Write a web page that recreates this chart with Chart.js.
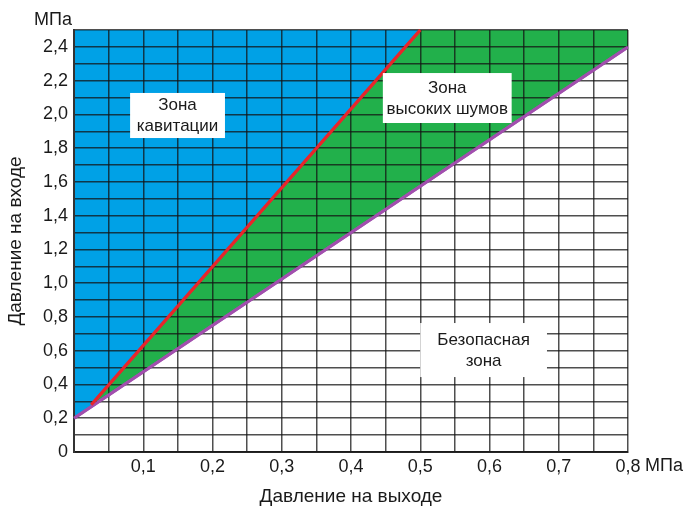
<!DOCTYPE html>
<html>
<head>
<meta charset="utf-8">
<script src="https://cdn.jsdelivr.net/npm/chart.js@4"></script>
<style>
html,body{margin:0;padding:0;background:#fff;}
#wrap{width:684px;height:509px;}
</style>
</head>
<body>
<div id="wrap"><canvas id="chart" width="684" height="509"></canvas></div>
<script>
// boundary lines (x = outlet pressure, y = inlet pressure, MPa)
const noiseX = [0, 0.8];          // purple line: lower edge of the noise zone
const noiseY = [0.2, 2.4];
const cavX = [0.025, 0.5];        // red line: cavitation limit
const cavY = [0.28, 2.5];
const blueX = [0, 0.025, 0.5];    // lower edge of blue area
const blueY = [0.2, 0.27, 2.5];

const zoneLabels = [
  { text: ["Зона", "кавитации"], box: [0.081, 2.127, 0.218, 1.86] },
  { text: ["Зона", "высоких шумов"], box: [0.446, 2.245, 0.632, 1.949] },
  { text: ["Безопасная", "зона"], box: [0.5, 0.764, 0.683, 0.444] }
];

const FONT = "'Liberation Sans', Arial, sans-serif";
const TXT = "#1a1a1a";

function pts(xs, ys){ return xs.map((x, i) => ({ x: x, y: ys[i] })); }
function comma(v){ return v === 0 ? "0" : v.toFixed(1).replace(".", ","); }

const overlay = {
  id: "overlay",
  afterDraw(chart){
    const ctx = chart.ctx;
    const xs = chart.scales.x, ys = chart.scales.y;
    // redraw the boundary lines above the grid
    [2, 3].forEach(i => chart.getDatasetMeta(i).controller.draw());

    ctx.save();
    ctx.font = "17px " + FONT;
    ctx.textBaseline = "middle";
    ctx.textAlign = "center";
    zoneLabels.forEach(z => {
      const x1 = xs.getPixelForValue(z.box[0]), y1 = ys.getPixelForValue(z.box[1]);
      const x2 = xs.getPixelForValue(z.box[2]), y2 = ys.getPixelForValue(z.box[3]);
      ctx.fillStyle = "#fff";
      ctx.fillRect(x1, y1, x2 - x1, y2 - y1);
      ctx.fillStyle = TXT;
      const cx = (x1 + x2) / 2, cy = (y1 + y2) / 2;
      ctx.fillText(z.text[0], cx, cy - 10);
      ctx.fillText(z.text[1], cx, cy + 11);
    });

    // units
    ctx.font = "18px " + FONT;
    ctx.textAlign = "right";
    ctx.fillText("МПа", 72, 20);
    ctx.textAlign = "left";
    ctx.fillText("МПа", 645, 466);
    ctx.restore();
  }
};

const gridOpts = { color: "rgba(20,20,20,0.75)", lineWidth: 1.5, drawTicks: false, z: 1 };

new Chart(document.getElementById("chart"), {
  type: "line",
  data: {
    datasets: [
      { data: pts(noiseX, noiseY), fill: "end", backgroundColor: "#22b04b",
        borderWidth: 0, pointRadius: 0, order: 4 },
      { data: pts(blueX, blueY), fill: "end", backgroundColor: "#00a1e6",
        borderWidth: 0, pointRadius: 0, order: 3 },
      { data: pts(noiseX, noiseY), fill: false, borderColor: "#a24fae",
        borderWidth: 3, pointRadius: 0, order: 2 },
      { data: pts(cavX, cavY), fill: false, borderColor: "#e8252b",
        borderWidth: 3, pointRadius: 0, order: 1 }
    ]
  },
  options: {
    responsive: false,
    animation: false,
    events: [],
    layout: { padding: { top: 30, right: 56, left: 0, bottom: 0 } },
    plugins: { legend: { display: false }, tooltip: { enabled: false } },
    scales: {
      x: {
        type: "linear", min: 0, max: 0.8,
        afterFit: s => { s.height = 57; },
        grid: gridOpts,
        border: { color: "#333", width: 2, z: 1 },
        ticks: {
          stepSize: 0.05, padding: 4, color: TXT, font: { family: FONT, size: 18 },
          maxRotation: 0, autoSkip: false,
          callback: v => (Math.round(v * 100) % 10 === 0 && v > 0) ? comma(v) : ""
        },
        title: { display: true, text: "Давление на выходе", color: TXT,
          font: { family: FONT, size: 19 }, padding: { top: 0, bottom: 1 } }
      },
      y: {
        type: "linear", min: 0, max: 2.5,
        afterFit: s => { s.width = 74; },
        grid: gridOpts,
        border: { color: "#333", width: 2, z: 1 },
        ticks: {
          stepSize: 0.1, padding: 6, color: TXT, font: { family: FONT, size: 18 },
          autoSkip: false,
          callback: v => (Math.round(v * 10) % 2 === 0 && v < 2.45) ? comma(v) : ""
        },
        title: { display: true, text: "Давление на входе", color: TXT,
          font: { family: FONT, size: 19 }, padding: { top: 4, bottom: 0 } }
      }
    }
  },
  plugins: [overlay]
});
</script>
</body>
</html>
